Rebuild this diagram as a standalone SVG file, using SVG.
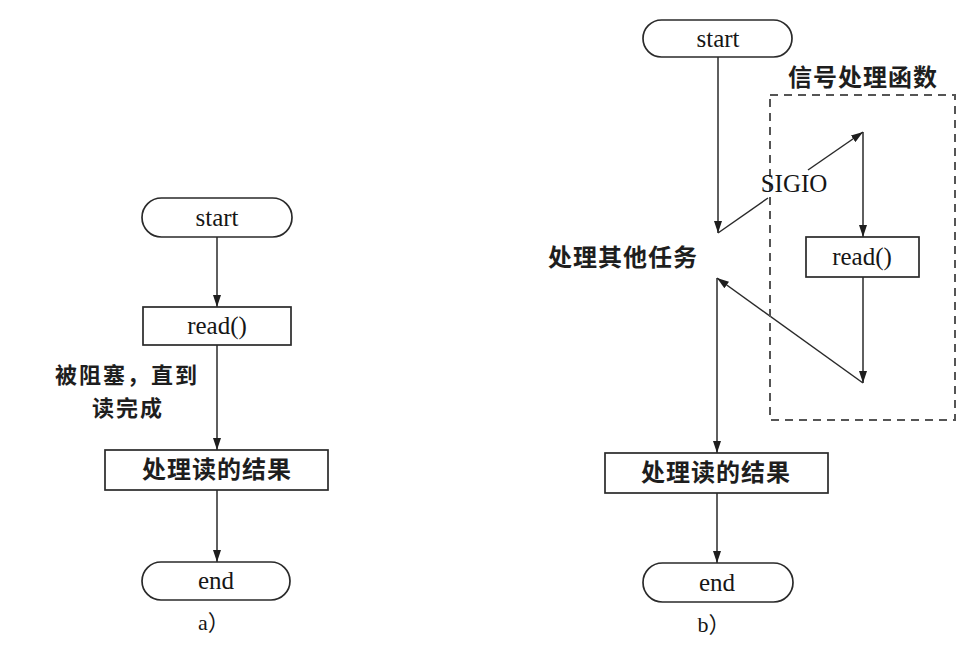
<svg xmlns="http://www.w3.org/2000/svg" width="971" height="646" viewBox="0 0 971 646">
<defs>
<marker id="arr" markerUnits="userSpaceOnUse" markerWidth="12" markerHeight="8" refX="12" refY="4" orient="auto">
<path d="M0,0 L12,4 L0,8 Z" fill="#1e1e1e"/>
</marker>
<style>
.shape{fill:#fff;stroke:#2a2a2a;stroke-width:1.7}
.line{fill:none;stroke:#2a2a2a;stroke-width:1.5}
.dash{fill:none;stroke:#555;stroke-width:2;stroke-dasharray:8 6}
.lat{font-family:"Liberation Serif","Noto Sans CJK SC",serif;font-size:25px;fill:#161616;text-anchor:middle}
.cjk{font-family:"Noto Sans CJK SC","Noto Sans CJK TC",sans-serif;font-size:24px;font-weight:700;fill:#1e1e1e;text-anchor:middle;letter-spacing:1px}
.lbl{font-family:"Noto Sans CJK SC","Noto Sans CJK TC",sans-serif;font-size:22px;font-weight:700;fill:#1e1e1e;text-anchor:middle;letter-spacing:2px}
</style>
</defs>
<rect width="971" height="646" fill="#fff"/>

<g id="connectors">
<line class="line" x1="217" y1="237" x2="217" y2="307" marker-end="url(#arr)"/>
<line class="line" x1="217" y1="345" x2="217" y2="450" marker-end="url(#arr)"/>
<line class="line" x1="217" y1="490" x2="217" y2="562" marker-end="url(#arr)"/>
<line class="line" x1="718" y1="57" x2="718" y2="233" marker-end="url(#arr)"/>
<line class="line" x1="718" y1="233" x2="768" y2="198"/>
<line class="line" x1="808" y1="170" x2="863" y2="132" marker-end="url(#arr)"/>
<line class="line" x1="863" y1="132" x2="863" y2="237" marker-end="url(#arr)"/>
<line class="line" x1="863" y1="277" x2="863" y2="383" marker-end="url(#arr)"/>
<line class="line" x1="863" y1="383" x2="717" y2="278" marker-end="url(#arr)"/>
<line class="line" x1="717" y1="278" x2="717" y2="453" marker-end="url(#arr)"/>
<line class="line" x1="717" y1="493" x2="717" y2="563" marker-end="url(#arr)"/>
</g>

<g id="a-start"><rect class="shape" x="142" y="198" width="150" height="39" rx="19.5"/><text class="lat" x="217" y="226">start</text></g>
<g id="a-read"><rect class="shape" x="143" y="307" width="148" height="38"/><text class="lat" x="217" y="334">read()</text></g>
<g id="a-label"><text class="lbl" x="127" y="383">被阻塞，直到</text><text class="lbl" x="128" y="416">读完成</text></g>
<g id="a-process"><rect class="shape" x="105" y="450" width="223" height="40"/><text class="cjk" x="217" y="478">处理读的结果</text></g>
<g id="a-end"><rect class="shape" x="142" y="562" width="148" height="38" rx="19"/><text class="lat" x="216" y="589">end</text></g>
<g id="a-caption"><text class="lat" x="214" y="630" style="font-size:22px">a）</text></g>

<g id="b-handler">
<rect class="dash" x="770" y="95" width="185" height="325"/>
<text class="cjk" x="863" y="86">信号处理函数</text>
</g>
<g id="b-start"><rect class="shape" x="643" y="20" width="149" height="37" rx="18.5"/><text class="lat" x="718" y="47">start</text></g>
<g id="b-sigio"><text class="lat" x="794" y="192">SIGIO</text></g>
<g id="b-other"><text class="cjk" x="623" y="266">处理其他任务</text></g>
<g id="b-read"><rect class="shape" x="806" y="237" width="113" height="40"/><text class="lat" x="862" y="265">read()</text></g>
<g id="b-process"><rect class="shape" x="605" y="453" width="223" height="40"/><text class="cjk" x="716" y="481">处理读的结果</text></g>
<g id="b-end"><rect class="shape" x="643" y="563" width="150" height="39" rx="19.5"/><text class="lat" x="717" y="591">end</text></g>
<g id="b-caption"><text class="lat" x="714" y="632" style="font-size:22px">b）</text></g>
</svg>
